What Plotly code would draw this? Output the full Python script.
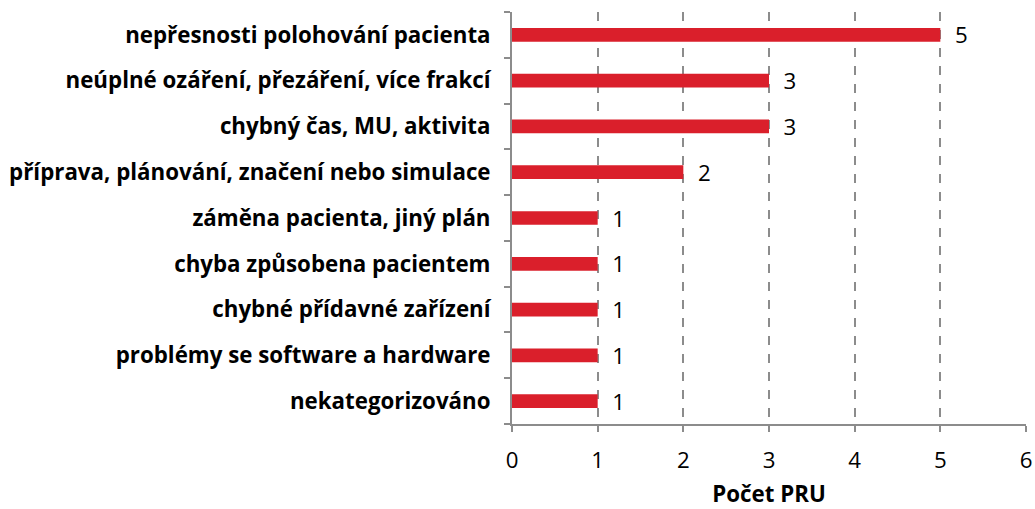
import plotly.graph_objects as go

categories = [
    "nepřesnosti polohování pacienta",
    "neúplné ozáření, přezáření, více frakcí",
    "chybný čas, MU, aktivita",
    "příprava, plánování, značení nebo simulace",
    "záměna pacienta, jiný plán",
    "chyba způsobena pacientem",
    "chybné přídavné zařízení",
    "problémy se software a hardware",
    "nekategorizováno",
]
values = [5, 3, 3, 2, 1, 1, 1, 1, 1]
x_ticks = [0, 1, 2, 3, 4, 5, 6]
x_title = "Počet PRU"

FONT = "Open Sans, Noto Sans, sans-serif"
GRAY = "#8c8c8c"
FS = 22.3

fig = go.Figure(
    go.Bar(
        y=categories,
        x=values,
        orientation="h",
        marker=dict(color="#DA1F2B", line=dict(width=0)),
        text=["  " + str(v) for v in values],
        textposition="outside",
        constraintext="none",
        textfont=dict(family=FONT, size=FS, color="black"),
        cliponaxis=False,
        width=0.3,
        hoverinfo="skip",
    )
)

fig.update_layout(
    width=1035,
    height=509,
    margin=dict(l=512, r=9, t=12, b=85),
    paper_bgcolor="white",
    plot_bgcolor="white",
    showlegend=False,
    font=dict(family=FONT, color="black"),
)

fig.update_yaxes(
    autorange="reversed",
    automargin=False,
    tickmode="array",
    tickvals=categories,
    ticktext=["<b>" + c + "</b>" for c in categories],
    tickfont=dict(family=FONT, size=FS, color="black"),
    showline=True,
    linecolor=GRAY,
    linewidth=2,
    ticks="outside",
    tickson="boundaries",
    ticklen=6,
    tickcolor=GRAY,
    tickwidth=2,
    showgrid=False,
    ticklabelstandoff=15,
)

fig.update_xaxes(
    range=[0, 6],
    automargin=False,
    tickmode="array",
    tickvals=x_ticks,
    ticktext=[str(t) for t in x_ticks],
    tickfont=dict(family=FONT, size=FS, color="black"),
    showline=True,
    linecolor=GRAY,
    linewidth=2,
    ticks="outside",
    ticklen=6,
    tickcolor=GRAY,
    tickwidth=2,
    showgrid=True,
    gridcolor=GRAY,
    gridwidth=2,
    griddash="dash",
    zeroline=False,
    ticklabelstandoff=9,
    title=dict(text="<b>" + x_title + "</b>", font=dict(family=FONT, size=FS, color="black"), standoff=23),
)

# remove the browser's default page margin so the figure fills the window exactly
fig.write_html(
    "out.html",
    config={"displayModeBar": False},
    post_script="document.body.style.margin='0';document.body.style.overflow='hidden';",
)
